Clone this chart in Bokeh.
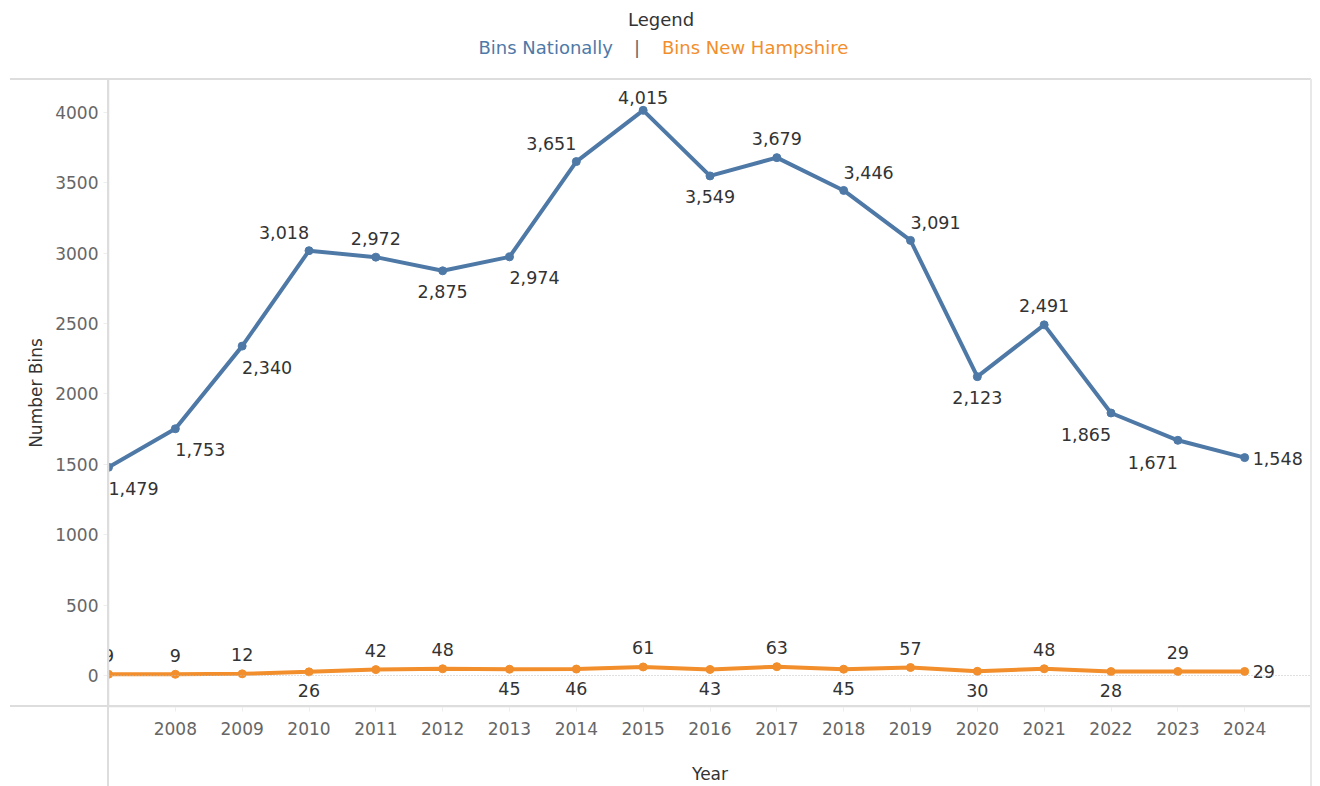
from bokeh.plotting import figure
from bokeh.layouts import column
from bokeh.models import ColumnDataSource, Span, FixedTicker, Div
from bokeh.core.properties import value
from bokeh.embed import file_html
from bokeh.resources import INLINE

# ---------------- data ----------------
years = list(range(2007, 2025))
bins_national = [1479, 1753, 2340, 3018, 2972, 2875, 2974, 3651, 4015,
                 3549, 3679, 3446, 3091, 2123, 2491, 1865, 1671, 1548]
bins_new_hampshire = [9, 9, 12, 26, 42, 48, 45, 46, 61,
                      43, 63, 45, 57, 30, 48, 28, 29, 29]
y_ticks = [0, 500, 1000, 1500, 2000, 2500, 3000, 3500, 4000]
x_ticks = list(range(2008, 2025))
series_names = ["Bins Nationally", "Bins New Hampshire"]

# label placement codes (A above, B below, L/R left/right, T tight-above)
national_place = ["BR", "BR", "BR", "AL", "A", "B", "BR", "AL", "T",
                  "B", "A", "AR", "AR", "B", "A", "BL", "BL", "R"]
nh_place = ["A", "A", "A", "B", "A", "A", "B", "B", "A",
            "B", "A", "B", "A", "B", "A", "B", "A", "R"]

OFFS = {
    "A": (0, -19, "center"), "B": (0, 21, "center"), "T": (0, -13, "center"),
    "AL": (-25, -18, "center"), "AR": (25, -18, "center"),
    "BL": (-25, 22, "center"), "BR": (25, 21, "center"),
    "R": (8, 1, "left"),
}
NH_OFFS = dict(OFFS, A=(0, -19, "center"), B=(0, 19, "center"), R=(8, 0, "left"))

BLUE = "#4e79a7"
ORANGE = "#f28e2b"
FONT = "DejaVu Sans"
FS = "17px"
GRID = "#d9d9d9"


def label_source(xs, ys, texts, places, offs):
    return ColumnDataSource(dict(
        x=xs, y=ys, text=texts,
        xo=[offs[p][0] for p in places],
        yo=[offs[p][1] for p in places],
        align=[offs[p][2] for p in places],
    ))


p = figure(width=1312, height=707, output_backend="svg", toolbar_location=None,
           x_range=(2007, 2025), y_range=(-220, 4234),
           min_border_left=108, min_border_right=1,
           min_border_top=0, min_border_bottom=80, margin=(0, 0, 0, 0))
p.outline_line_color = None
p.xgrid.visible = False
p.ygrid.visible = False
p.background_fill_color = None
p.border_fill_color = None

# zero reference line
p.add_layout(Span(location=0, dimension="width", line_color="#c0c0c0",
                  line_width=1, line_dash="1 2"))

# series
p.line(years, bins_national, line_color=BLUE, line_width=4)
p.scatter(years, bins_national, size=8, fill_color=BLUE, line_color=BLUE)
p.line(years, bins_new_hampshire, line_color=ORANGE, line_width=4)
p.scatter(years, bins_new_hampshire, size=8, fill_color=ORANGE, line_color=ORANGE)

src_n = label_source(years, bins_national, [f"{v:,}" for v in bins_national],
                     national_place, OFFS)
p.text(x="x", y="y", text="text", source=src_n, x_offset="xo", y_offset="yo",
       text_align="align", text_baseline="middle", text_color="#333333",
       text_font=value(FONT), text_font_size="17.5px")
src_h = label_source(years, bins_new_hampshire,
                     [f"{v:,}" for v in bins_new_hampshire], nh_place, NH_OFFS)
p.text(x="x", y="y", text="text", source=src_h, x_offset="xo", y_offset="yo",
       text_align="align", text_baseline="middle", text_color="#333333",
       text_font=value(FONT), text_font_size="17.5px")

# axes
xa = p.xaxis[0]
xa.ticker = FixedTicker(ticks=x_ticks)
xa.axis_line_color = GRID
xa.axis_line_width = 1.5
xa.major_tick_line_color = "#eeeeee"
xa.major_tick_out = 5
xa.major_tick_in = 0
xa.minor_tick_line_color = None
xa.major_label_standoff = 10
xa.major_label_text_font = FONT
xa.major_label_text_font_size = FS
xa.major_label_text_color = "#666666"
xa.axis_label = "Year"
xa.axis_label_text_font = FONT
xa.axis_label_text_font_size = FS
xa.axis_label_text_font_style = "normal"
xa.axis_label_text_color = "#333333"
xa.axis_label_standoff = 26

ya = p.yaxis[0]
ya.ticker = FixedTicker(ticks=y_ticks)
ya.axis_line_color = GRID
ya.axis_line_width = 1.5
ya.major_tick_line_color = "#eeeeee"
ya.major_tick_out = 5
ya.major_tick_in = 0
ya.minor_tick_line_color = None
ya.major_label_standoff = 5
ya.major_label_text_font = FONT
ya.major_label_text_font_size = FS
ya.major_label_text_color = "#666666"
ya.axis_label = "Number Bins"
ya.axis_label_text_font = FONT
ya.axis_label_text_font_size = FS
ya.axis_label_text_font_style = "normal"
ya.axis_label_text_color = "#333333"
ya.axis_label_standoff = 6


def line_div(left, top, w, h, color):
    return (f'<div style="position:absolute;left:{left}px;top:{top}px;'
            f'width:{w}px;height:{h}px;background:{color};z-index:5"></div>')


legend_html = (
    '<div style="position:relative;width:1312px;height:79px;'
    f'font-family:\'{FONT}\';font-size:18px;overflow:visible">'
    '<div style="position:absolute;left:661px;top:7px;transform:translateX(-50%);'
    'color:#333333;white-space:nowrap">Legend</div>'
    '<div style="position:absolute;right:699px;top:35px;'
    f'color:{BLUE};white-space:nowrap">{series_names[0]}</div>'
    '<div style="position:absolute;left:637px;top:35px;transform:translateX(-50%);'
    'color:#666666;white-space:nowrap">|</div>'
    '<div style="position:absolute;left:662px;top:35px;'
    f'color:{ORANGE};white-space:nowrap">{series_names[1]}</div>'
    + line_div(10, 78, 1301, 2, "#dddddd")
    + line_div(10, 705, 1301, 2, "#dddddd")
    + line_div(107, 79, 2, 707, "#dddddd")
    + line_div(1310, 79, 2, 707, "#e8e8e8")
    + '</div>'
)
legend = Div(text=legend_html, width=1312, height=79, margin=(0, 0, 0, 0),
             styles={"overflow": "visible"})

layout = column(legend, p, spacing=0, margin=(0, 0, 0, 0))
open("out.html", "w").write(file_html(layout, INLINE))
